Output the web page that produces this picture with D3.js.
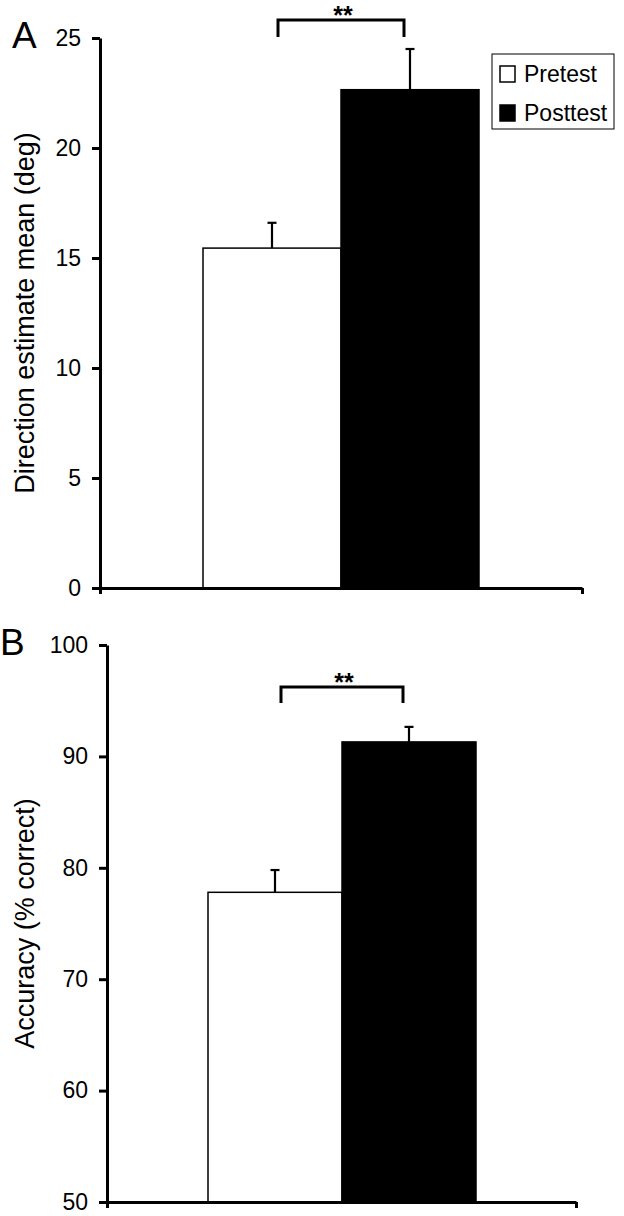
<!DOCTYPE html>
<html>
<head>
<meta charset="utf-8">
<script src="https://cdn.jsdelivr.net/npm/d3@7"></script>
<style>
  body { margin: 0; background: #fff; }
  text { font-family: Arial, "Liberation Sans", sans-serif; fill: #000; }
</style>
</head>
<body>
<div id="chart"></div>
<script>
// data
var groups = ["Pretest", "Posttest"];
var directionMeans = [15.45, 22.65];
var directionErrors = [1.15, 1.85];
var directionTicks = [0, 5, 10, 15, 20, 25];
var accuracyMeans = [77.8, 91.3];
var accuracyErrors = [2.0, 1.35];
var accuracyTicks = [50, 60, 70, 80, 90, 100];
var fills = ["#fff", "#000"];

var svg = d3.select("#chart")
  .append("svg")
  .attr("width", 624)
  .attr("height", 1216);

// one panel = axes + two bars + error bars + significance bracket
function drawPanel(p) {
  var g = svg.append("g");

  var y = d3.scaleLinear()
    .domain([p.ticks[0], p.ticks[p.ticks.length - 1]])
    .range([p.bottom, p.top]);

  var x = d3.scaleBand()
    .domain(groups)
    .range([p.barLeft, p.barRight])
    .padding(0);

  var rows = groups.map(function(d, i) {
    return { name: d, mean: p.means[i], err: p.errors[i], fill: fills[i] };
  });

  // bars
  g.selectAll("rect.bar")
    .data(rows)
    .enter()
    .append("rect")
    .attr("class", "bar")
    .attr("x", d => x(d.name))
    .attr("width", x.bandwidth())
    .attr("y", d => y(d.mean))
    .attr("height", d => y(p.ticks[0]) - y(d.mean))
    .attr("fill", d => d.fill)
    .attr("stroke", "#000")
    .attr("stroke-width", 1.5);

  // error bars (upper only)
  var cx = d => x(d.name) + x.bandwidth() / 2;
  g.selectAll("line.err")
    .data(rows)
    .enter()
    .append("line")
    .attr("x1", cx).attr("x2", cx)
    .attr("y1", d => y(d.mean))
    .attr("y2", d => y(d.mean + d.err))
    .attr("stroke", "#000")
    .attr("stroke-width", 2.2);

  g.selectAll("line.cap")
    .data(rows)
    .enter()
    .append("line")
    .attr("x1", d => cx(d) - 4.5).attr("x2", d => cx(d) + 4.5)
    .attr("y1", d => y(d.mean + d.err))
    .attr("y2", d => y(d.mean + d.err))
    .attr("stroke", "#000")
    .attr("stroke-width", 2.2);

  // y axis
  var yAxis = g.append("g")
    .attr("transform", `translate(${p.axisLeft}, 0)`)
    .call(d3.axisLeft(y).tickValues(p.ticks).tickSizeInner(8).tickSizeOuter(0).tickPadding(11));

  // x axis (no labels, ticks at both ends)
  var xLine = d3.scaleLinear().domain([0, 1]).range([p.axisLeft, p.axisRight]);
  var xAxis = g.append("g")
    .attr("transform", `translate(0, ${p.bottom})`)
    .call(d3.axisBottom(xLine).tickValues([0, 1]).tickFormat("").tickSizeInner(6).tickSizeOuter(0));

  [yAxis, xAxis].forEach(function(a) {
    a.selectAll("path, line").attr("stroke", "#000").attr("stroke-width", 3);
  });
  yAxis.selectAll("text")
    .attr("font-size", 23)
    .attr("fill", "#000")
    .style("font-family", "Arial, 'Liberation Sans', sans-serif");

  // significance bracket
  var bx1 = cx(rows[0]) + 6, bx2 = cx(rows[1]) - 6;
  g.append("path")
    .attr("d", `M${bx1},${y(p.legLevel)}V${y(p.bracketLevel)}H${bx2}V${y(p.legLevel)}`)
    .attr("fill", "none")
    .attr("stroke", "#000")
    .attr("stroke-width", 3);

  g.append("text")
    .attr("x", (bx1 + bx2) / 2 + 2)
    .attr("y", y(p.bracketLevel) + 4)
    .attr("text-anchor", "middle")
    .attr("font-size", 25)
    .attr("font-weight", "bold")
    .text("**");

  // axis title
  g.append("text")
    .attr("transform", `translate(${p.titleX}, ${(p.top + p.bottom) / 2}) rotate(-90)`)
    .attr("text-anchor", "middle")
    .attr("font-size", 27)
    .text(p.title);

  // panel letter
  g.append("text")
    .attr("x", p.letterX)
    .attr("y", p.top + 10)
    .attr("font-size", 37)
    .text(p.letter);

  return { x: x, y: y };
}

drawPanel({
  letter: "A", letterX: 12,
  title: "Direction estimate mean (deg)", titleX: 34,
  means: directionMeans, errors: directionErrors, ticks: directionTicks,
  top: 38, bottom: 588,
  axisLeft: 100, axisRight: 582,
  barLeft: 203, barRight: 479,
  bracketLevel: 25.82, legLevel: 25.05
});

drawPanel({
  letter: "B", letterX: 0,
  title: "Accuracy (% correct)", titleX: 34,
  means: accuracyMeans, errors: accuracyErrors, ticks: accuracyTicks,
  top: 645, bottom: 1202,
  axisLeft: 107, axisRight: 576,
  barLeft: 208, barRight: 476,
  bracketLevel: 96.23, legLevel: 94.8
});

// legend (panel A)
var legend = svg.append("g").attr("transform", "translate(492, 54)");
legend.append("rect")
  .attr("width", 122).attr("height", 75)
  .attr("fill", "#fff")
  .attr("stroke", "#000")
  .attr("stroke-width", 1);

var items = legend.selectAll("g.item")
  .data(groups)
  .enter()
  .append("g")
  .attr("transform", (d, i) => `translate(8, ${12 + i * 39})`);

items.append("rect")
  .attr("width", 15).attr("height", 16)
  .attr("fill", (d, i) => fills[i])
  .attr("stroke", "#000")
  .attr("stroke-width", 1.5);

items.append("text")
  .attr("x", 24)
  .attr("y", 16)
  .attr("font-size", 23)
  .text(d => d);
</script>
</body>
</html>
